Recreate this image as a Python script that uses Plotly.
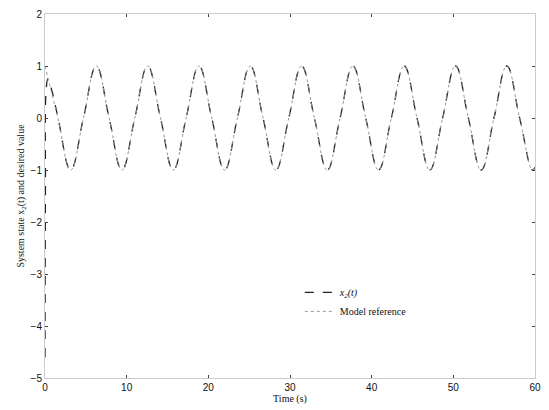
import plotly.graph_objects as go

# Desired value (model reference), read at quarter periods
t_ref = [0.0, 1.57, 3.14, 4.71, 6.28, 7.85, 9.42, 11.0, 12.57, 14.14, 15.71, 17.28,
         18.85, 20.42, 21.99, 23.56, 25.13, 26.7, 28.27, 29.85, 31.42, 32.99, 34.56,
         36.13, 37.7, 39.27, 40.84, 42.41, 43.98, 45.55, 47.12, 48.69, 50.27, 51.84,
         53.41, 54.98, 56.55, 58.12, 59.69, 60.0]
y_ref = [1.0, 0.0, -1.0, 0.0, 1.0, 0.0, -1.0, 0.0, 1.0, 0.0, -1.0, 0.0,
         1.0, 0.0, -1.0, 0.0, 1.0, 0.0, -1.0, 0.0, 1.0, 0.0, -1.0,
         0.0, 1.0, 0.0, -1.0, 0.0, 1.0, 0.0, -1.0, 0.0, 1.0, 0.0,
         -1.0, 0.0, 1.0, 0.0, -1.0, -0.95]

# System state x2(t), with initial transient
t_x2 = [0.0, 0.05, 0.15, 0.35, 0.8, 1.6] + t_ref[2:]
y_x2 = [-4.6, -1.5, 0.55, 0.75, 0.55, 0.0] + y_ref[2:]

x_ticks = [0, 10, 20, 30, 40, 50, 60]
y_ticks = [-5, -4, -3, -2, -1, 0, 1, 2]

fig = go.Figure()
fig.add_trace(go.Scatter(
    x=t_x2, y=y_x2, mode="lines", name="<i>x<sub>2</sub>(t)</i>",
    line=dict(color="#222222", width=1.3, dash="dash", shape="spline", smoothing=1.2),
))
fig.add_trace(go.Scatter(
    x=t_ref, y=y_ref, mode="lines", name="Model reference",
    line=dict(color="#999999", width=1, dash="dot", shape="spline", smoothing=1.2),
))

fig.update_layout(
    width=549, height=410,
    margin=dict(l=45, r=8, t=14, b=29),
    paper_bgcolor="white", plot_bgcolor="white",
    font=dict(family="Liberation Sans, Arial", size=10, color="#111111"),
    showlegend=True,
    legend=dict(x=0.52, y=0.275, xanchor="left", yanchor="top",
                bgcolor="rgba(0,0,0,0)", borderwidth=0,
                font=dict(family="Liberation Serif, Times New Roman", size=10),
                itemwidth=30, tracegroupgap=6),
    xaxis=dict(range=[0, 60], tickvals=x_ticks, ticks="inside", ticklen=3,
               showgrid=False, zeroline=False, showline=True, linecolor="#cccccc",
               linewidth=1, mirror="ticks",
               title=dict(text="Time (s)", standoff=2,
                          font=dict(family="Liberation Serif, Times New Roman", size=10))),
    yaxis=dict(range=[-5, 2], tickvals=y_ticks, ticks="inside", ticklen=3,
               showgrid=False, zeroline=False, showline=True, linecolor="#cccccc",
               linewidth=1, mirror="ticks",
               title=dict(text="System state x<sub>2</sub>(t) and desired value", standoff=4,
                          font=dict(family="Liberation Serif, Times New Roman", size=10))),
)

fig.write_html("out.html")
